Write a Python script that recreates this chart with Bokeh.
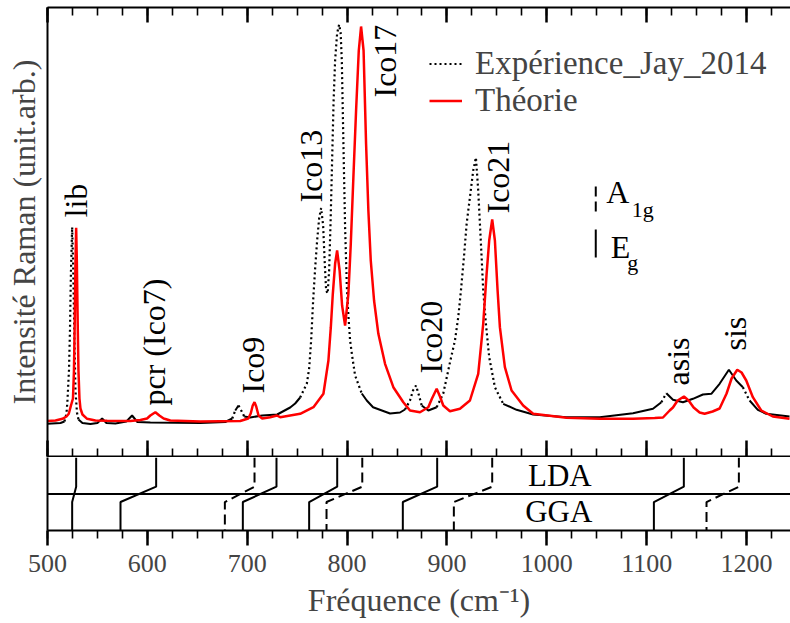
import numpy as np
from bokeh.plotting import figure
from bokeh.layouts import column
from bokeh.models import (LinearAxis, SingleIntervalTicker, FixedTicker, Span,
                          Legend, LegendItem, ColumnDataSource)
from bokeh.core.properties import value
from bokeh.embed import file_html
from bokeh.resources import INLINE

FONT = "Liberation Serif"

# ---------------- data ----------------
exp_freq = [500, 513, 517, 519, 520, 521.5, 522.5, 523.5, 524.7, 525.8, 526.8, 528, 529.5, 531,
            535, 543, 550, 554.7, 559, 568, 579, 584.7, 590, 603, 653, 678, 685, 688, 691.3,
            694, 697, 703, 715, 730, 743, 748, 753, 756.3, 759.7, 762, 764, 766, 768, 770, 772,
            774, 776, 777.5, 779, 780.5, 782, 783.5, 785, 786.5, 788, 790, 792, 793.5, 794.7,
            796.3, 798, 799.7, 801.3, 803, 805, 808, 814.7, 819.7, 826, 843, 853, 858, 863, 866,
            869, 872, 874.7, 881.3, 889.7, 896.3, 903, 908, 911.3, 914, 917, 919.7, 923, 926.3,
            929, 931.3, 933, 934.7, 936.3, 939, 942.3, 948, 956.3, 969.7, 986.3, 1019.7, 1053,
            1086.3, 1106.3, 1114.7, 1119.7, 1126.3, 1136.3, 1146.3, 1156.3, 1164.7, 1173,
            1182.3, 1189.7, 1196.3, 1203, 1211.3, 1219.7, 1243]
exp_int = [32.7, 33.5, 35, 43, 56, 86, 126, 186, 229.3, 186, 126, 66, 44, 37,
           33.5, 32.5, 33.5, 38, 33.5, 33, 35, 41, 34.5, 34, 33.5, 34.5, 38, 46, 51,
           46, 40, 39, 41, 42, 49, 53, 59, 66, 73, 88, 116, 156, 188, 216, 238,
           248.5, 231, 196, 166, 163, 186, 236, 296, 356, 396, 423, 432, 424, 396,
           313, 229, 171, 141, 116, 101, 81, 63, 56, 49.3, 43, 44, 47, 56, 66,
           71, 61, 51, 46, 49.3, 63, 94, 116, 139.3, 166, 199.3, 232.7, 259.3, 286,
           299, 266, 232.7, 199.3, 166, 132.7, 99.3, 69.3, 52.7, 46.7, 42, 39.3, 39.3,
           43.3, 47.7, 54.3, 63.3, 56.7, 54.3, 57.7, 62, 62.7, 72.7,
           86.7, 76, 69.3, 56, 46.7, 42.7, 40]

th_freq = [500, 508, 515, 519, 521.3, 523.5, 525.5, 526.5, 527.3, 528, 528.7, 529.4, 530.2, 531,
           532, 533, 535, 539.7, 548, 559.7, 583, 593, 599.7, 603, 608, 612, 616.3, 623, 653,
           693, 701, 703.5, 705.5, 707.3, 709, 711.3, 715, 723, 729.7, 733, 753, 766.3, 776.3,
           781.3, 783.7, 785.7, 788, 790, 792.5, 795, 798, 801.3, 803.7, 806.3, 809, 811.7, 814,
           816.5, 819, 821.3, 823.7, 827, 831.3, 838, 846.3, 856.3, 863, 873, 881.3, 885, 889.7,
           893, 896.3, 903, 913, 923, 931.3, 936.3, 939.7, 942.3, 945.3, 948, 950.7, 953, 958,
           964.7, 976.3, 986.3, 1019.7, 1053, 1086.3, 1108, 1116.3, 1123, 1126.3, 1131, 1137.3,
           1142, 1147, 1153, 1158, 1166, 1173, 1180, 1185, 1190.7, 1195, 1199.7, 1206.3, 1214.7,
           1226.3, 1243]
th_int = [35.5, 36, 37.7, 40, 42.7, 51, 58, 86, 136, 194, 228.7, 194, 136, 86,
          58, 48, 42, 37.7, 36, 35.7, 35.5, 36.5, 38, 41, 44.3, 41, 38, 36, 35,
          35.5, 38, 43, 51, 54.3, 50, 41, 38, 39.3, 41, 39.3, 42.7, 49.3, 62.7,
          96, 129.3, 162.7, 192.7, 206, 186, 151, 131, 162.7, 212.7, 279.3, 346, 406, 430,
          406, 312.7, 246, 196, 156, 122.7, 92.7, 69.3, 54.3, 46, 44.3, 49.3, 58, 67.7,
          60, 51, 45.3, 47.7, 56, 82.7, 132.7, 182.7, 216, 237, 216, 166, 129.3, 89.3,
          66, 51, 42.7, 38.7, 37.7, 37.7, 38.5, 39, 46, 49, 56, 60,
          56, 49, 44, 42.7, 45, 48, 63, 78, 86.7, 84, 76, 59.3, 46,
          40, 37.7]

peak_names = ["lib", "pcr (Ico7)", "Ico9", "Ico13", "Ico17", "Ico20", "Ico21", "asis", "sis"]
peak_label_f = [529, 607, 706, 764, 838, 884, 951, 1131, 1188]
peak_label_i = [239, 51, 63, 254, 359, 83, 243, 71, 106]

mode_lda = [528.7, 608.8, 707.3, 729.3, 790.1, 815.2, 890.2, 945.3, 1137.2, 1192.3]
mode_gga = [524.7, 573.1, 677.6, 695.6, 762.0, 779.4, 855.8, 906.9, 1107.2, 1159.9]
mode_sym = ["Eg", "Eg", "A1g", "Eg", "Eg", "A1g", "Eg", "A1g", "Eg", "A1g"]

series_names = ["Expérience_Jay_2014", "Théorie"]

# ---------------- top panel ----------------
X_RANGE = (500, 1244)
p1 = figure(width=790, height=457, x_range=X_RANGE, y_range=(0, 449),
            output_backend="svg", toolbar_location=None,
            x_axis_location=None, y_axis_location=None,
            min_border_left=47, min_border_right=0, min_border_top=7, min_border_bottom=1)
p1.outline_line_color = None
p1.grid.visible = False
p1.background_fill_color = "white"

def tick_axis(tin, tout, minin, minout):
    ax = LinearAxis(ticker=SingleIntervalTicker(interval=100, num_minor_ticks=4))
    ax.major_tick_in = tin
    ax.major_tick_out = tout
    ax.minor_tick_in = minin
    ax.minor_tick_out = minout
    ax.axis_line_width = 2
    ax.major_tick_line_width = 2.5
    ax.minor_tick_line_width = 1.6
    ax.axis_line_color = "black"
    ax.major_tick_line_color = "black"
    ax.minor_tick_line_color = "black"
    return ax

def hide_labels(ax):
    ax.major_label_text_font_size = "0px"
    ax.major_label_text_color = None
    ax.major_label_standoff = 0

top_ax = tick_axis(15, 0, 8, 0)
hide_labels(top_ax)
p1.add_layout(top_ax, "above")

bot_ax = tick_axis(16, 0, 8, 0)
hide_labels(bot_ax)
p1.add_layout(bot_ax, "below")

left_ax = LinearAxis(ticker=FixedTicker(ticks=[]))
left_ax.axis_label = "Intensité Raman (unit.arb.)"
left_ax.axis_label_text_font = FONT
left_ax.axis_label_text_font_size = "32px"
left_ax.axis_label_text_font_style = "normal"
left_ax.axis_label_standoff = 6
left_ax.axis_line_width = 2
hide_labels(left_ax)
left_ax.major_tick_in = 0
left_ax.major_tick_out = 0
left_ax.minor_tick_in = 0
left_ax.minor_tick_out = 0
p1.add_layout(left_ax, "left")

# experimental curve: steep parts dotted, flat parts solid
ex = np.array(exp_freq, dtype=float)
ey = np.array(exp_int, dtype=float)
steep = np.abs(np.diff(ey)) > 1.6 * np.abs(np.diff(ex))

def runs(mask):
    xs, ys = [], []
    i, n = 0, len(mask)
    while i < n:
        if mask[i]:
            j = i
            while j < n and mask[j]:
                j += 1
            xs.append(list(ex[i:j + 1]))
            ys.append(list(ey[i:j + 1]))
            i = j
        else:
            i += 1
    return xs, ys

sx, sy = runs(~steep)
dx_, dy_ = runs(steep)
p1.multi_line(sx, sy, line_color="black", line_width=2)
r_exp = p1.multi_line(dx_, dy_, line_color="black", line_width=2.2, line_dash="2 3")
r_th = p1.line(th_freq, th_int, line_color="#ff0000", line_width=2.5)

lab_src = ColumnDataSource(dict(x=peak_label_f, y=peak_label_i, t=peak_names))
p1.text(x="x", y="y", text="t", source=lab_src, angle=np.pi / 2,
        text_font=value(FONT), text_font_size=value("32px"),
        text_align="left", text_baseline="alphabetic", text_color="black")

# symmetry key
p1.segment(x0=[1049], y0=[245], x1=[1049], y1=[273], line_color="black",
           line_width=2, line_dash="10 5")
p1.segment(x0=[1049], y0=[199], x1=[1049], y1=[227], line_color="black", line_width=2)
p1.text(x=[1059.5, 1064], y=[265, 210], text=["A", "E"],
        text_font=value(FONT), text_font_size=value("32px"),
        text_align="left", text_baseline="alphabetic", text_color="black")
p1.text(x=[1085, 1080.5], y=[247, 194], text=["1g", "g"],
        text_font=value(FONT), text_font_size=value("22px"),
        text_align="left", text_baseline="alphabetic", text_color="black")

legend = Legend(items=[LegendItem(label=series_names[0], renderers=[r_exp]),
                       LegendItem(label=series_names[1], renderers=[r_th])],
                location=(382, 337))
legend.label_text_font = FONT
legend.label_text_font_size = "33px"
legend.label_height = 33
legend.glyph_height = 33
legend.glyph_width = 33
legend.label_standoff = 13
legend.spacing = 0
legend.padding = 0
legend.margin = 0
legend.border_line_color = None
legend.background_fill_alpha = 0
p1.add_layout(legend, "center")

# ---------------- bottom panel ----------------
p2 = figure(width=790, height=166, x_range=p1.x_range, y_range=(0, 2),
            output_backend="svg", toolbar_location=None,
            x_axis_location=None, y_axis_location=None,
            min_border_left=47, min_border_right=0, min_border_top=0, min_border_bottom=93)
p2.outline_line_color = None
p2.grid.visible = False

ax2 = tick_axis(0, 15, 0, 8)
ax2.major_label_text_font = FONT
ax2.major_label_text_font_size = "26px"
ax2.major_label_standoff = 9
ax2.axis_label = "Fréquence (cm⁻¹)"
ax2.axis_label_text_font = FONT
ax2.axis_label_text_font_size = "32px"
ax2.axis_label_text_font_style = "normal"
ax2.axis_label_standoff = 7
p2.add_layout(ax2, "below")

l2 = LinearAxis(ticker=FixedTicker(ticks=[]))
l2.axis_line_width = 2
hide_labels(l2)
l2.major_tick_in = 0
l2.major_tick_out = 0
l2.minor_tick_in = 0
l2.minor_tick_out = 0
p2.add_layout(l2, "left")

p2.add_layout(Span(location=1, dimension="width", line_color="black", line_width=2))

LDA_END, GGA_START = 1.2, 0.78
for sym, dash in (("Eg", "solid"), ("A1g", "10 5")):
    xs = [[l, l, g, g] for l, g, s in zip(mode_lda, mode_gga, mode_sym) if s == sym]
    ys = [[2, LDA_END, GGA_START, 0] for _ in xs]
    p2.multi_line(xs, ys, line_color="black", line_width=2, line_dash=dash)

p2.text(x=[1013, 1012], y=[1.5, 0.52], text=["LDA", "GGA"],
        text_font=value(FONT), text_font_size=value("31px"),
        text_align="center", text_baseline="alphabetic", text_color="black")

layout = column(p1, p2, spacing=0)
open("out.html", "w").write(file_html(layout, INLINE))
